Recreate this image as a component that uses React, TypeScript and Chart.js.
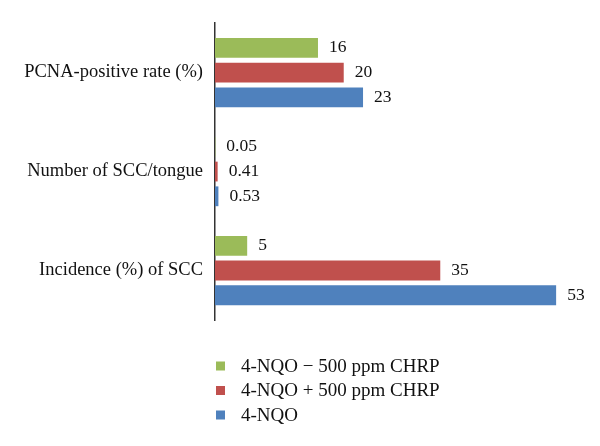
import React, { useEffect, useRef } from "react";
import { Chart, registerables } from "chart.js";

Chart.register(...registerables);

const categories = ["PCNA-positive rate (%)", "Number of SCC/tongue", "Incidence (%) of SCC"];
const seriesNames = ["4-NQO \u2212 500 ppm CHRP", "4-NQO + 500 ppm CHRP", "4-NQO"];
const greenValues = [16, 0.05, 5];
const redValues = [20, 0.41, 35];
const blueValues = [23, 0.53, 53];
const seriesColors = ["#9BBB59", "#C0504D", "#4F81BD"];
const xMax = 55;

const FONT = "'Liberation Serif', 'Times New Roman', serif";

const valueLabels = {
  id: "valueLabels",
  afterDatasetsDraw(chart: any) {
    const ctx = chart.ctx;
    ctx.save();
    ctx.font = `17.5px ${FONT}`;
    ctx.fillStyle = "#111";
    ctx.textAlign = "left";
    ctx.textBaseline = "middle";
    chart.data.datasets.forEach((ds: any, i: number) => {
      const meta = chart.getDatasetMeta(i);
      meta.data.forEach((bar: any, j: number) => {
        ctx.fillText(String(ds.data[j]), bar.x + 11, bar.y);
      });
    });
    ctx.restore();
  },
};

const verticalLegend = {
  id: "verticalLegend",
  afterDraw(chart: any) {
    const ctx = chart.ctx;
    ctx.save();
    ctx.font = `19px ${FONT}`;
    ctx.textAlign = "left";
    ctx.textBaseline = "middle";
    chart.data.datasets.forEach((ds: any, i: number) => {
      const cy = 366 + 24.5 * i;
      ctx.fillStyle = ds.backgroundColor;
      ctx.fillRect(216, cy - 4.5, 9, 9);
      ctx.fillStyle = "#111";
      ctx.fillText(ds.label, 241, cy + 1);
    });
    ctx.restore();
  },
};

export default function App() {
  const canvasRef = useRef<HTMLCanvasElement | null>(null);

  useEffect(() => {
    if (!canvasRef.current) return;
    const chart = new Chart(canvasRef.current, {
      type: "bar",
      data: {
        labels: categories,
        datasets: [greenValues, redValues, blueValues].map((vals, i) => ({
          label: seriesNames[i],
          data: vals,
          backgroundColor: seriesColors[i],
          borderWidth: 0,
          categoryPercentage: 0.75,
          barPercentage: 0.8,
        })),
      },
      options: {
        indexAxis: "y",
        animation: false,
        responsive: true,
        maintainAspectRatio: false,
        devicePixelRatio: 1,
        layout: { padding: { left: 0, top: 20, right: 31, bottom: 126 } },
        plugins: {
          legend: { display: false },
          tooltip: { enabled: false },
        },
        scales: {
          x: {
            display: false,
            min: 0,
            max: xMax,
          },
          y: {
            afterFit(scale: any) {
              scale.width = 215;
            },
            grid: { display: false, drawTicks: false },
            border: { display: true, color: "#333", width: 1.5 },
            ticks: {
              padding: 12,
              color: "#111",
              font: { family: FONT, size: 18.5 },
            },
          },
        },
      },
      plugins: [valueLabels, verticalLegend],
    } as any);
    return () => chart.destroy();
  }, []);

  return (
    <div style={{ position: "absolute", left: 0, top: 0, width: 600, height: 446, background: "#fff" }}>
      <canvas ref={canvasRef} />
    </div>
  );
}
